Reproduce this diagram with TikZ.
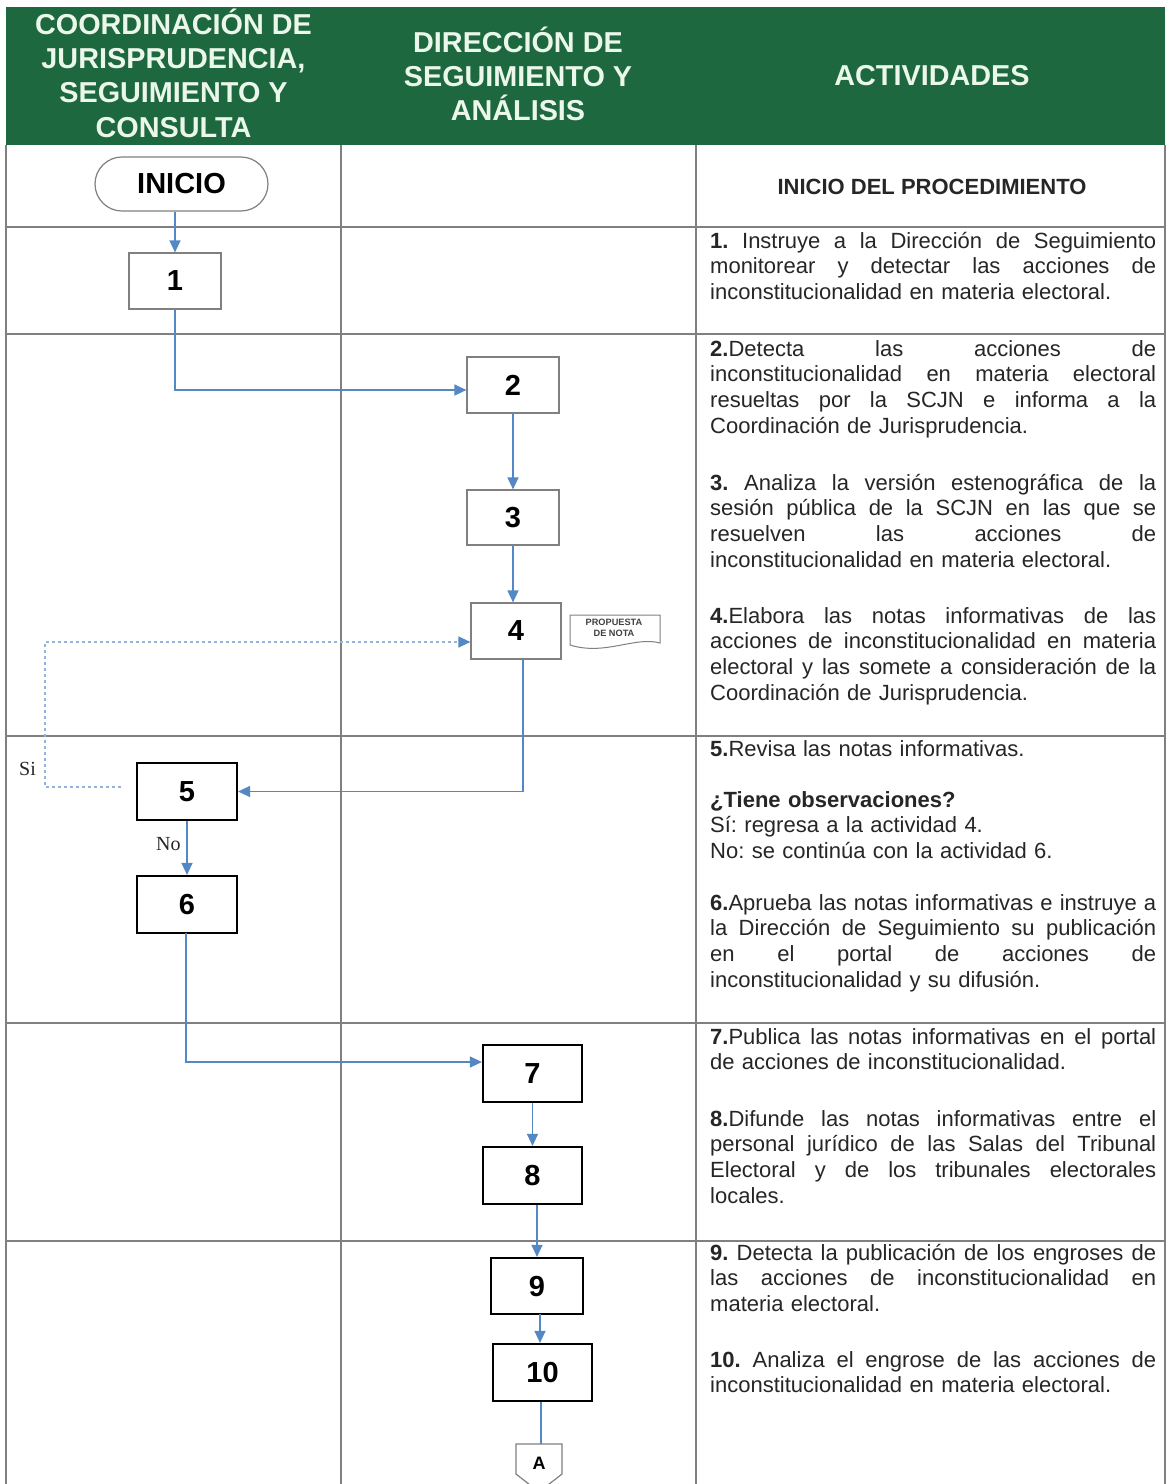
\documentclass[tikz,border=0pt]{standalone}
\usepackage{fontspec}
\setmainfont{Liberation Sans}
\newfontfamily\serifsi{Liberation Serif}
\usetikzlibrary{arrows.meta}
\definecolor{hdrgreen}{RGB}{29,104,62}
\definecolor{hdrtext}{RGB}{236,247,236}
\definecolor{gridc}{RGB}{128,128,128}
\definecolor{arrc}{RGB}{84,136,196}
\definecolor{dashc}{RGB}{150,178,220}
\definecolor{bodyc}{RGB}{38,38,38}
\newcommand\jl[1]{\leavevmode\hbox to 446pt{\spaceskip=0.278em plus 1fil\xspaceskip=\spaceskip\relax #1}}
\begin{document}
\begin{tikzpicture}[x=1pt,y=-1pt,
  hdr/.style={text=hdrtext, font=\fontsize{28.8}{34.3}\selectfont\bfseries, align=center, inner sep=0pt},
  act/.style={anchor=base west, text=bodyc, font=\fontsize{22}{25.7}\selectfont\frenchspacing, text width=446pt, align=left, inner sep=0pt},
  pbox/.style={draw=gridc, line width=1.2pt, minimum width=92pt, minimum height=56pt, font=\fontsize{29}{34}\selectfont\bfseries, inner sep=0pt},
  kbox/.style={draw=black, line width=2.2pt, minimum width=99pt, minimum height=57pt, font=\fontsize{29}{34}\selectfont\bfseries, inner sep=0pt},
  arr/.style={draw=arrc, line width=1.3pt, -{Triangle[length=12pt,width=11pt]}},
  plain/.style={draw=arrc, line width=1.3pt},
  darr/.style={draw=dashc, line width=1.2pt, dash pattern=on 3pt off 3pt, -{Triangle[length=12pt,width=11pt,fill=arrc,color=arrc]}},
  grid/.style={draw=gridc, line width=1.3pt},
  lbl/.style={font=\serifsi\fontsize{20}{24}\selectfont, text=black!85, inner sep=0pt}
]
\useasboundingbox (0,0) rectangle (1167,1484);
\clip (0,0) rectangle (1167,1484);
\fill[white] (0,0) rectangle (1167,1484);

% header
\fill[hdrgreen] (6,7) rectangle (1165,145);
\node[hdr] (h1) at (173.5,73) {COORDINACIÓN DE\\JURISPRUDENCIA,\\SEGUIMIENTO Y\\CONSULTA};
\node[hdr] (h2) at (518,74) {DIRECCIÓN DE\\SEGUIMIENTO Y\\ANÁLISIS};
\node[hdr] (h3) at (932,76) {ACTIVIDADES};

% grid
\draw[grid] (6,145) -- (6,1484);
\draw[grid] (341,145) -- (341,1484);
\draw[grid] (696,145) -- (696,1484);
\draw[grid] (1165,145) -- (1165,1484);
\foreach \yy in {227,334,736,1023,1241} \draw[grid] (6,\yy) -- (1165,\yy);

% row 0
\node[draw=gridc, line width=1.2pt, minimum width=173pt, minimum height=54pt, rounded corners=27pt,
      font=\fontsize{29}{34}\selectfont\bfseries, inner sep=0pt] (inicio) at (181.5,184) {INICIO};
\node[anchor=base, font=\fontsize{22}{26}\selectfont\bfseries, text=bodyc, inner sep=0pt] (tinicio) at (932,194) {INICIO DEL PROCEDIMIENTO};

% boxes
\node[pbox] (b1) at (175,281) {1};
\node[pbox] (b2) at (513,385) {2};
\node[pbox, minimum height=55pt] (b3) at (513,517.5) {3};
\node[pbox, minimum width=90pt] (b4) at (516,631) {4};
\node[kbox, minimum width=100pt] (b5) at (187,791.5) {5};
\node[kbox, minimum width=100pt] (b6) at (187,904.5) {6};
\node[kbox] (b7) at (532.5,1073.5) {7};
\node[kbox] (b8) at (532.5,1175.5) {8};
\node[kbox, minimum width=92pt, minimum height=56pt] (b9) at (537,1286) {9};
\node[kbox] (b10) at (542.5,1372.5) {10};

% document shape
\draw[gridc, line width=1pt] (570,615) -- (660,615) -- (660,643)
  .. controls (635,636) and (605,656) .. (570,645) -- cycle;
\node[font=\fontsize{9.2}{10.5}\selectfont\bfseries, text=black!75, align=center, inner sep=0pt] (doc) at (614,628) {PROPUESTA\\DE NOTA};

% off-page connector
\draw[gridc, line width=1.2pt] (516,1444) -- (562,1444) -- (562,1474) -- (539,1492) -- (516,1474) -- cycle;
\node[font=\fontsize{18}{20}\selectfont\bfseries, inner sep=0pt] (A) at (539,1463) {A};
\coordinate (Aline) at (541,1444);

% connectors
\draw[arr] (inicio.south -| b1) -- (b1.north);
\draw[arr] (b1.south) |- ([yshift=-5pt]b2.west);
\draw[arr] (b2.south) -- (b2.south |- b3.north);
\draw[arr] (b3.south) -- (b3.south |- b4.north);
\coordinate (c4) at (523,659);
\draw[arr] (c4) |- (b5.east);
\coordinate (d0) at (121,787);
\coordinate (d1) at (45,787);
\coordinate (d2) at (45,642);
\draw[darr] (d0) -- (d1) -- (d2) -- (d2 -| b4.west);
\draw[arr] (b5.south) -- (b6.north);
\coordinate (c6) at (186,933);
\draw[arr] (c6) |- ([yshift=11.5pt]b7.west);
\draw[arr] (b7.south) -- (b8.north);
\draw[arr] (b8.south -| b9) -- (b9.north);
\coordinate (c9) at (540,1314);
\draw[arr] (c9) -- (c9 |- b10.north);
\draw[plain] (b10.south -| Aline) -- (Aline);

\node[lbl, anchor=base west] (si) at (19,775) {Si};
\node[lbl, anchor=base west] (no) at (156,850) {No};

% activity texts
\node[act] (t1) at (710,248) {\jl{\textbf{1.} Instruye a la Dirección de Seguimiento}\\
\jl{monitorear y detectar las acciones de}\\
inconstitucionalidad en materia electoral.};

\node[act] (t2) at (710,356) {\jl{\textbf{2.}Detecta las acciones de}\\
\jl{inconstitucionalidad en materia electoral}\\
\jl{resueltas por la SCJN e informa a la}\\
Coordinación de Jurisprudencia.};

\node[act] (t3) at (710,490) {\jl{\textbf{3.} Analiza la versión estenográfica de la}\\
\jl{sesión pública de la SCJN en las que se}\\
\jl{resuelven las acciones de}\\
inconstitucionalidad en materia electoral.};

\node[act] (t4) at (710,623) {\jl{\textbf{4.}Elabora las notas informativas de las}\\
\jl{acciones de inconstitucionalidad en materia}\\
\jl{electoral y las somete a consideración de la}\\
Coordinación de Jurisprudencia.};

\node[act] (t5) at (710,756) {\textbf{5.}Revisa las notas informativas.};
\node[act] (t5b) at (710,807) {\textbf{¿Tiene observaciones?}\\
Sí: regresa a la actividad 4.\\
No: se continúa con la actividad 6.};

\node[act] (t6) at (710,910) {\jl{\textbf{6.}Aprueba las notas informativas e instruye a}\\
\jl{la Dirección de Seguimiento su publicación}\\
\jl{en el portal de acciones de}\\
inconstitucionalidad y su difusión.};

\node[act] (t7) at (710,1044) {\jl{\textbf{7.}Publica las notas informativas en el portal}\\
de acciones de inconstitucionalidad.};

\node[act] (t8) at (710,1126) {\jl{\textbf{8.}Difunde las notas informativas entre el}\\
\jl{personal jurídico de las Salas del Tribunal}\\
\jl{Electoral y de los tribunales electorales}\\
locales.};

\node[act] (t9) at (710,1260) {\jl{\textbf{9.} Detecta la publicación de los engroses de}\\
\jl{las acciones de inconstitucionalidad en}\\
materia electoral.};

\node[act] (t10) at (710,1367) {\jl{\textbf{10.} Analiza el engrose de las acciones de}\\
inconstitucionalidad en materia electoral.};
\end{tikzpicture}
\end{document}
